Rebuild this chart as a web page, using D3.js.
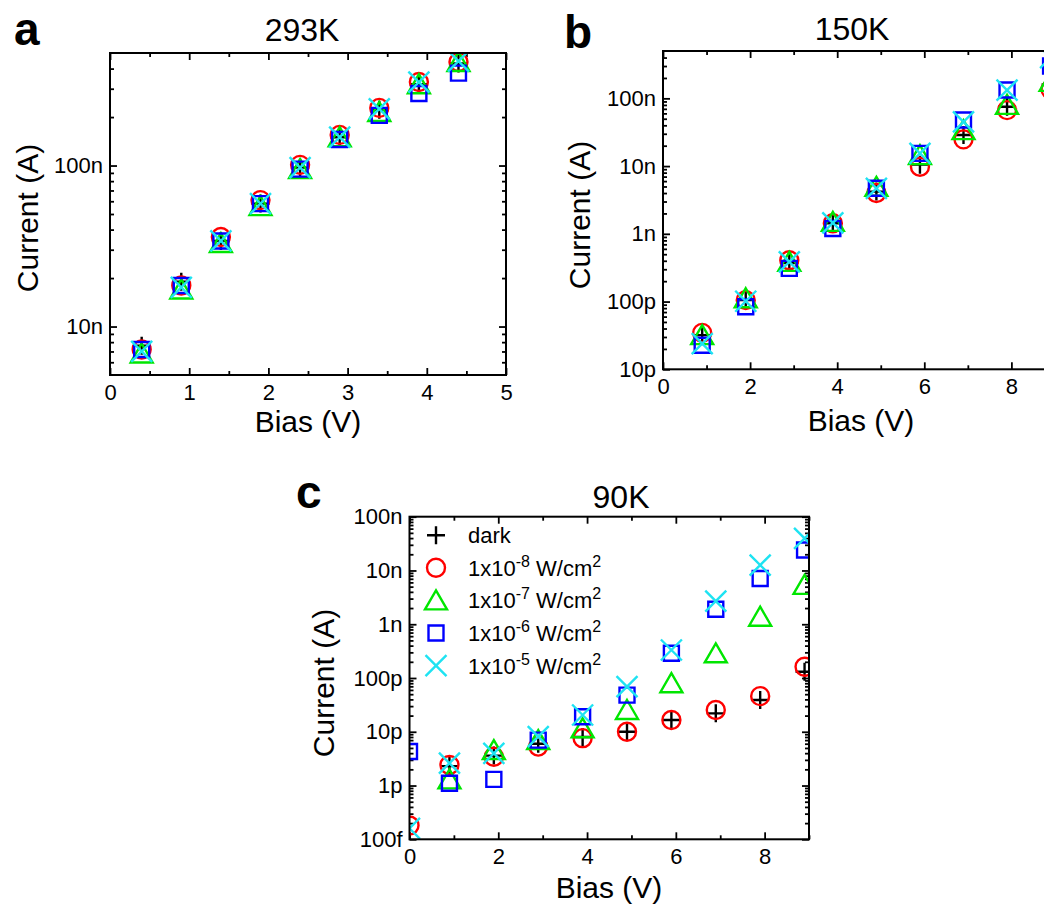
<!DOCTYPE html>
<html>
<head>
<meta charset="utf-8">
<script src="https://cdn.jsdelivr.net/npm/d3@7"></script>
<style>
  html, body { margin: 0; padding: 0; background: #fff; }
  svg { display: block; }
  text { font-family: "Liberation Sans", Arial, sans-serif; fill: #000; }
</style>
</head>
<body>
<svg id="fig" width="1044" height="905"></svg>
<script>
// ---- series (shared by all three panels) ----
const seriesKeys   = ["dark", "p8", "p7", "p6", "p5"];
const seriesShapes = ["plus", "circle", "triangle", "square", "cross"];
const seriesColors = ["#000000", "#ff0000", "#00e600", "#0000ff", "#1ee3f2"];
const legendMain   = ["dark", "1x10", "1x10", "1x10", "1x10"];
const legendExp    = ["", "-8", "-7", "-6", "-5"];

// ---- panel a: 293 K ----
const biasA = [0.4, 0.9, 1.4, 1.9, 2.4, 2.9, 3.4, 3.9, 4.4];
const a_dark = [7.6e-9, 19e-9, 34e-9, 58e-9, 97e-9, 150e-9, 222e-9, 320e-9, 430e-9];
const a_p8   = [7.2e-9, 18e-9, 36e-9, 61e-9, 101e-9, 155e-9, 228e-9, 330e-9, 440e-9];
const a_p7   = [6.8e-9, 17e-9, 33e-9, 56e-9, 95e-9, 150e-9, 215e-9, 320e-9, 440e-9];
const a_p6   = [7.2e-9, 18e-9, 34e-9, 58e-9, 95e-9, 145e-9, 205e-9, 280e-9, 375e-9];
const a_p5   = [7.0e-9, 17.5e-9, 34e-9, 58e-9, 97e-9, 150e-9, 225e-9, 330e-9, 445e-9];
const a_yTicks  = [1e-8, 1e-7];
const a_yLabels = ["10n", "100n"];
const a_xTicks  = [0, 1, 2, 3, 4, 5];
const a_xMinor  = [0.5, 1.5, 2.5, 3.5, 4.5];

// ---- panel b: 150 K ----
const biasB = [0.9, 1.9, 2.9, 3.9, 4.9, 5.9, 6.9, 7.9, 8.9];
const b_dark = [32e-12, 105e-12, 370e-12, 1.43e-9, 4.2e-9, 10.5e-9, 28.7e-9, 75e-9, 160e-9];
const b_p8   = [34.5e-12, 105e-12, 408e-12, 1.43e-9, 4.0e-9, 9.8e-9, 24.8e-9, 67e-9, 135e-9];
const b_p7   = [32e-12, 112e-12, 385e-12, 1.5e-9, 4.95e-9, 14.5e-9, 34e-9, 80e-9, 175e-9];
const b_p6   = [22.7e-12, 84e-12, 309e-12, 1.2e-9, 4.7e-9, 15.4e-9, 47.8e-9, 133e-9, 300e-9];
const b_p5   = [24e-12, 101e-12, 385e-12, 1.45e-9, 4.7e-9, 15.4e-9, 45e-9, 132e-9, 400e-9];
const b_yTicks  = [1e-11, 1e-10, 1e-9, 1e-8, 1e-7];
const b_yLabels = ["10p", "100p", "1n", "10n", "100n"];
const b_xTicks  = [0, 2, 4, 6, 8];
const b_xMinor  = [1, 3, 5, 7, 9];

// ---- panel c: 90 K ----
const biasC = [0, 0.9, 1.9, 2.9, 3.9, 4.9, 5.9, 6.9, 7.9, 8.9];
const c_dark = [null, 2.3e-12, 3.6e-12, 6e-12, 8e-12, 10e-12, 16.6e-12, 22e-12, 39e-12, 131e-12];
const c_p8   = [1.8e-13, 2.41e-12, 3.44e-12, 5.3e-12, 7.6e-12, 10e-12, 16.6e-12, 25.4e-12, 46e-12, 162e-12];
const c_p7   = [null, 1.3e-12, 4.57e-12, 7.0e-12, 11.6e-12, 25.4e-12, 80e-12, 288e-12, 1.38e-9, 5.4e-9];
const c_p6   = [4.3e-12, 1.1e-12, 1.3e-12, 7e-12, 19e-12, 48e-12, 288e-12, 1.9e-9, 7.1e-9, 24e-9];
const c_p5   = [1.6e-13, 2.6e-12, 3.98e-12, 8.1e-12, 20.5e-12, 69e-12, 332e-12, 2.7e-9, 12.6e-9, 39.6e-9];
const c_yTicks  = [1e-13, 1e-12, 1e-11, 1e-10, 1e-9, 1e-8, 1e-7];
const c_yLabels = ["100f", "1p", "10p", "100p", "1n", "10n", "100n"];
const c_xTicks  = [0, 2, 4, 6, 8];
const c_xMinor  = [1, 3, 5, 7, 9];

// ---- marker shapes ----
function markerPath(shape) {
  const p = d3.path();
  switch (shape) {
    case "plus":
      p.moveTo(-9, 0); p.lineTo(9, 0); p.moveTo(0, -9); p.lineTo(0, 9); break;
    case "circle":
      p.moveTo(9, 0); p.arc(0, 0, 9, 0, 2 * Math.PI); break;
    case "triangle":
      p.moveTo(0, -10); p.lineTo(11, 9); p.lineTo(-11, 9); p.closePath(); break;
    case "square":
      p.rect(-7.5, -7.5, 15, 15); break;
    case "cross":
      p.moveTo(-10.5, -10.5); p.lineTo(10.5, 10.5); p.moveTo(10.5, -10.5); p.lineTo(-10.5, 10.5); break;
  }
  return p.toString();
}

function minorLogTicks(domain) {
  const out = [];
  const lo = Math.floor(Math.log10(domain[0])), hi = Math.ceil(Math.log10(domain[1]));
  for (let e = lo; e <= hi; e++) {
    for (let k = 2; k <= 9; k++) {
      const v = k * Math.pow(10, e);
      if (v > domain[0] * 1.0001 && v < domain[1] * 0.9999) out.push(v);
    }
  }
  return out;
}

const svg = d3.select("#fig");
let clipId = 0;

function drawPanel(cfg) {
  const g = svg.append("g").attr("transform", `translate(${cfg.left},${cfg.top})`);
  const x = d3.scaleLinear().domain(cfg.xDomain).range([0, cfg.width]);
  const y = d3.scaleLog().domain(cfg.yDomain).range([cfg.height, 0]);

  const majorLen = 7, minorLen = 4;
  const yMinor = minorLogTicks(cfg.yDomain);

  const styleAxis = sel => {
    sel.select(".domain").remove();
    sel.selectAll(".tick line").attr("stroke", "#000").attr("stroke-width", 1.8);
    sel.selectAll(".tick text").attr("font-size", 22).attr("fill", "#000")
       .attr("font-family", '"Liberation Sans", Arial, sans-serif');
  };

  // bottom axis with labels
  g.append("g").attr("transform", `translate(0,${cfg.height})`)
    .call(d3.axisBottom(x).tickValues(cfg.xTicks).tickFormat(d3.format("d"))
      .tickSize(-majorLen).tickPadding(9)).call(styleAxis);
  g.append("g").attr("transform", `translate(0,${cfg.height})`)
    .call(d3.axisBottom(x).tickValues(cfg.xMinor).tickFormat("").tickSize(-minorLen)).call(styleAxis);
  // top axis (ticks only)
  g.append("g")
    .call(d3.axisTop(x).tickValues(cfg.xTicks).tickFormat("").tickSize(-majorLen)).call(styleAxis);
  g.append("g")
    .call(d3.axisTop(x).tickValues(cfg.xMinor).tickFormat("").tickSize(-minorLen)).call(styleAxis);
  // left axis with labels
  g.append("g")
    .call(d3.axisLeft(y).tickValues(cfg.yTicks).tickFormat((d, i) => cfg.yLabels[i])
      .tickSize(-majorLen).tickPadding(7)).call(styleAxis);
  g.append("g")
    .call(d3.axisLeft(y).tickValues(yMinor).tickFormat("").tickSize(-minorLen)).call(styleAxis);
  // right axis (ticks only)
  g.append("g").attr("transform", `translate(${cfg.width},0)`)
    .call(d3.axisRight(y).tickValues(cfg.yTicks).tickFormat("").tickSize(-majorLen)).call(styleAxis);
  g.append("g").attr("transform", `translate(${cfg.width},0)`)
    .call(d3.axisRight(y).tickValues(yMinor).tickFormat("").tickSize(-minorLen)).call(styleAxis);

  // data markers, clipped to the plot frame
  const id = "clip" + (clipId++);
  g.append("clipPath").attr("id", id)
    .append("rect").attr("width", cfg.width).attr("height", cfg.height);
  const plot = g.append("g").attr("clip-path", `url(#${id})`);
  cfg.series.forEach((vals, si) => {
    const pts = cfg.bias.map((b, i) => ({ b, v: vals[i] })).filter(d => d.v != null);
    plot.append("g").selectAll("path").data(pts).join("path")
      .attr("transform", d => `translate(${x(d.b)},${y(d.v)})`)
      .attr("d", markerPath(seriesShapes[si]))
      .attr("fill", "none")
      .attr("stroke", seriesColors[si])
      .attr("stroke-width", 2.4);
  });

  // frame
  g.append("rect").attr("width", cfg.width).attr("height", cfg.height)
    .attr("fill", "none").attr("stroke", "#000").attr("stroke-width", 2);

  // titles
  svg.append("text").attr("x", cfg.titlePos[0]).attr("y", cfg.titlePos[1])
    .attr("text-anchor", "middle").attr("font-size", 32).text(cfg.title);
  svg.append("text").attr("x", cfg.letterPos[0]).attr("y", cfg.letterPos[1])
    .attr("font-size", 46).attr("font-weight", "bold").text(cfg.letter);
  svg.append("text").attr("x", cfg.xTitlePos[0]).attr("y", cfg.xTitlePos[1])
    .attr("text-anchor", "middle").attr("font-size", 30).text("Bias (V)");
  svg.append("text")
    .attr("transform", `translate(${cfg.yTitlePos[0]},${cfg.yTitlePos[1]}) rotate(-90)`)
    .attr("text-anchor", "middle").attr("dy", "0.35em").attr("font-size", 30).text("Current (A)");

  return { g, x, y };
}

drawPanel({
  left: 110, top: 53, width: 396, height: 322,
  xDomain: [0, 5], yDomain: [5e-9, 5e-7],
  xTicks: a_xTicks, xMinor: a_xMinor, yTicks: a_yTicks, yLabels: a_yLabels,
  bias: biasA, series: [a_dark, a_p8, a_p7, a_p6, a_p5],
  title: "293K", titlePos: [302, 41], letter: "a", letterPos: [14, 45],
  xTitlePos: [308, 432], yTitlePos: [27, 218]
});

drawPanel({
  left: 663, top: 51, width: 435.5, height: 318.3,
  xDomain: [0, 10], yDomain: [1e-11, 5e-7],
  xTicks: b_xTicks, xMinor: b_xMinor, yTicks: b_yTicks, yLabels: b_yLabels,
  bias: biasB, series: [b_dark, b_p8, b_p7, b_p6, b_p5],
  title: "150K", titlePos: [852, 40], letter: "b", letterPos: [564, 48],
  xTitlePos: [861, 431], yTitlePos: [579, 215]
});

const pc = drawPanel({
  left: 409.5, top: 516.7, width: 399.5, height: 322.6,
  xDomain: [0, 9], yDomain: [1e-13, 1e-7],
  xTicks: c_xTicks, xMinor: c_xMinor, yTicks: c_yTicks, yLabels: c_yLabels,
  bias: biasC, series: [c_dark, c_p8, c_p7, c_p6, c_p5],
  title: "90K", titlePos: [621, 508], letter: "c", letterPos: [296, 508],
  xTitlePos: [609, 898], yTitlePos: [323, 683]
});

// legend inside panel c
const legend = pc.g.append("g").attr("transform", "translate(26.5,18.5)");
seriesKeys.forEach((k, i) => {
  const row = legend.append("g").attr("transform", `translate(0,${i * 32.6})`);
  row.append("path").attr("d", markerPath(seriesShapes[i]))
    .attr("fill", "none").attr("stroke", seriesColors[i]).attr("stroke-width", 2.4);
  const t = row.append("text").attr("x", 32).attr("y", 8).attr("font-size", 22);
  t.append("tspan").text(legendMain[i]);
  if (legendExp[i]) {
    t.append("tspan").attr("dy", -9).attr("font-size", 16).text(legendExp[i]);
    t.append("tspan").attr("dy", 9).text(" W/cm");
    t.append("tspan").attr("dy", -9).attr("font-size", 16).text("2");
  }
});
</script>
</body>
</html>
